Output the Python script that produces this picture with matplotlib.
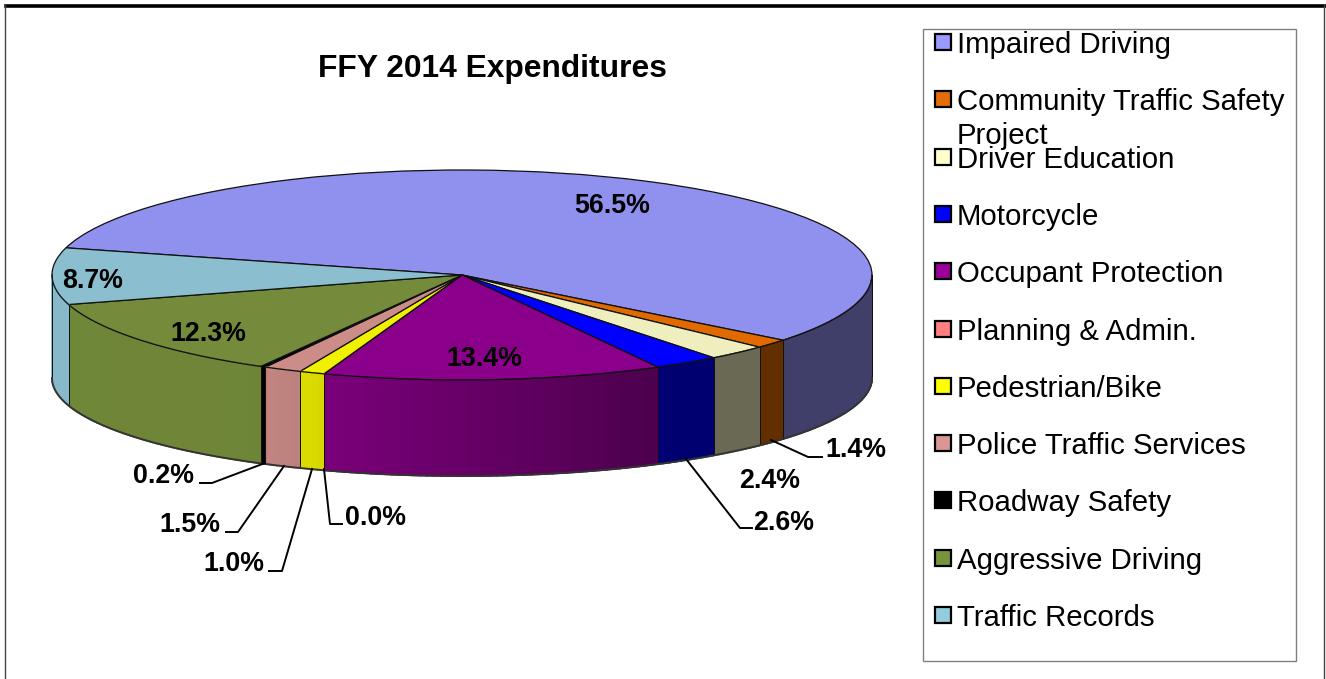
import numpy as np
import matplotlib
matplotlib.use("Agg")
import matplotlib.pyplot as plt
from matplotlib.colors import to_rgb
from matplotlib.patches import Rectangle

plt.rcParams['font.family'] = ['Liberation Sans', 'DejaVu Sans']

title = "FFY 2014 Expenditures"
categories = ["Impaired Driving", "Community Traffic Safety\nProject", "Driver Education",
              "Motorcycle", "Occupant Protection", "Planning & Admin.", "Pedestrian/Bike",
              "Police Traffic Services", "Roadway Safety", "Aggressive Driving", "Traffic Records"]
values = [56.5, 1.4, 2.4, 2.6, 13.4, 0.0, 1.0, 1.5, 0.2, 12.3, 8.7]

top_colors = ["#9090ee", "#e06a00", "#eeeebf", "#0000ff", "#8b008b", "#ff8080",
              "#f0f000", "#cc8c88", "#000000", "#738b3a", "#8bbfd0"]
legend_colors = ["#9999ff", "#e46c0a", "#ffffcc", "#0000ff", "#990099", "#ff8080",
                 "#ffff00", "#d99694", "#000000", "#77933c", "#93cddd"]

# pixel layout of the pie
cx, cy, rx, ry = 462, 275, 410, 105
start = 165

# label centre in pixels, one per slice
label_pos = [(612, 206), (856, 450), (770, 481), (784, 523), (484, 359), (375, 518),
             (234, 564), (190, 525), (164, 476), (208, 334), (93, 281)]
leaders = [[(822, 457), (808, 457), (771, 440)],
           [(752, 528), (740, 528), (686, 459)],
           [(342, 524), (330, 524), (324, 469)],
           [(269, 571), (282, 571), (312, 469)],
           [(226, 532), (238, 532), (284, 466)],
           [(200, 483), (212, 483), (265, 463)]]

W, H = 1326, 679
fig = plt.figure(figsize=(W / 100, H / 100), dpi=100, facecolor="white")

ax = fig.add_axes([(cx - rx) / W, 1 - (cy + ry) / H, 2 * rx / W, 2 * ry / H])
ax.pie(values, colors=top_colors, startangle=start, counterclock=False, radius=1,
       wedgeprops=dict(edgecolor="#111111", linewidth=0.9))
ax.set_aspect("auto")
ax.set_xlim(-1, 1)
ax.set_ylim(-1, 1)
ax.axis("off")


def wall_shade(x):
    return np.interp(x, [-1, -0.5, -0.34, -0.33, 0.48, 0.49, 1],
                     [0.97, 0.96, 0.9, 0.88, 0.55, 0.44, 0.44])


def wall_depth(t):
    # the wall looks a bit shorter at the front than at the sides
    return (103 - 7 * np.abs(np.sin(t))) / ry


# side wall, only the part of each slice facing the viewer
ends = start - np.cumsum(values) * 3.6
begins = np.r_[start, ends[:-1]]
for a0, a1, col in zip(begins, ends, top_colors):
    for shift in (0, 360):
        hi, lo = min(a0 + shift, 360), max(a1 + shift, 180)
        if hi <= lo:
            continue
        steps = np.radians(np.linspace(lo, hi, max(2, int(hi - lo) + 2)))
        base = np.array(to_rgb(col))
        for t0, t1 in zip(steps[:-1], steps[1:]):
            xs = np.cos([t0, t1, t1, t0])
            ys = np.sin([t0, t1, t1, t0]) - np.array([0, 0, wall_depth(t1), wall_depth(t0)])
            ax.fill(xs, ys, color=base * wall_shade(xs.mean()), lw=1.2, clip_on=False, zorder=1)
        for t in (steps[0], steps[-1]):
            ax.plot([np.cos(t)] * 2, [np.sin(t), np.sin(t) - wall_depth(t)], color="#111111",
                    lw=0.7, clip_on=False, zorder=2)

t = np.radians(np.linspace(180, 360, 300))
ax.plot(np.cos(t), np.sin(t) - wall_depth(t), color="#333333", lw=1.4, clip_on=False, zorder=2)
ax.plot(np.cos(t), np.sin(t), color="#111111", lw=0.9, clip_on=False, zorder=3)

# overlay in pixel coordinates for text, frame and legend
ov = fig.add_axes([0, 0, 1, 1], facecolor="none")
ov.set_xlim(0, W)
ov.set_ylim(H, 0)
ov.axis("off")

ov.plot([6, W], [5.5, 5.5], color="black", lw=2.6)
ov.plot([5, 5], [5, H], color="#444444", lw=1.0)
ov.plot([1324, 1324], [5, H], color="#444444", lw=1.0)

ov.text(492, 69, title, fontsize=22.9, fontweight="bold", ha="center", va="center")

for v, (px, py) in zip(values, label_pos):
    ov.text(px, py, f"{v:.1f}%", fontsize=19.3, fontweight="bold", ha="center", va="center")
for line in leaders:
    ov.plot(*zip(*line), color="black", lw=1.4)

ov.add_patch(Rectangle((922.5, 28.5), 373, 632, fc="white", ec="#808080", lw=1.0))
for i, (name, col) in enumerate(zip(categories, legend_colors)):
    y = 42 + i * 57.3
    ov.add_patch(Rectangle((935, y - 8), 16, 16, fc=col, ec="black", lw=1.6))
    for j, part in enumerate(name.split("\n")):
        ov.text(957, y + 11 + j * 34, part, fontsize=21.2, ha="left", va="baseline")

fig.savefig("out.png", dpi=100)
